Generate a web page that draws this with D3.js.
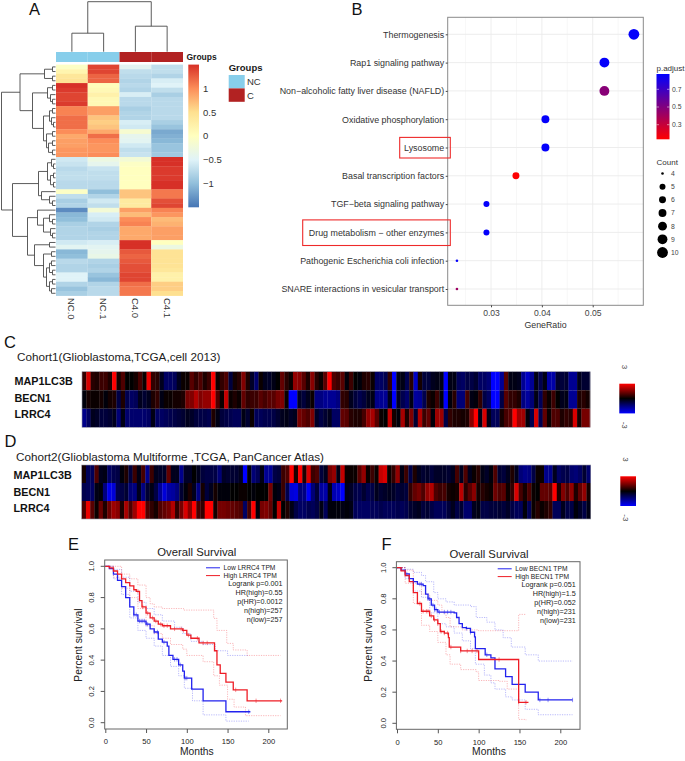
<!DOCTYPE html>
<html>
<head>
<meta charset="utf-8">
<script src="https://cdn.jsdelivr.net/npm/d3@7"></script>
<style>
  body { margin: 0; background: #fff; }
  text { font-family: "Liberation Sans", Arial, sans-serif; }
</style>
</head>
<body>
<div id="chart"></div>
<script>
// ---------- data ----------
// Panel A
const heatCols = ["NC.0", "NC.1", "C4.0", "C4.1"];
const heatNC0 = [-.05,.15,.35,.4,1.35,1.3,1.25,1.25,1.3,.95,.95,1.05,1.05,1.05,.9,.75,.8,.8,.85,.85,-.6,-.65,-.75,-.7,-.7,-.75,-.75,-.05,-.7,-.85,-.8,-1.35,-1.05,-1,-.85,-.8,-.8,-.8,-.6,-.45,-1.05,-1,-.75,-.8,-.8,-.5,-.5,-.8,-.95,-.85];
const heatNC1 = [1.25,1.25,1.1,1.1,.05,.1,.2,.1,.1,.8,.8,.6,.55,.6,.75,1.05,.9,.85,.85,.9,-.3,-.4,-.65,-.7,-.7,-.75,-.75,-1,-.8,-.6,-.7,-.2,-.55,-.6,-.8,-.85,-.8,-.8,-.55,-.45,-.4,-.35,-.8,-.85,-.8,-.95,-1.05,-.8,-.75,-.75];
const heatC40 = [-.45,-.7,-.75,-.8,-.75,-.8,-.55,-.75,-.75,-.85,-.8,-.8,-.55,-.6,-.15,-.4,-.45,-.6,-.7,-.65,-.2,-.05,0,0,0,0,0,.6,.6,.3,.3,.8,.65,.9,.95,.75,.75,.75,1.35,1.35,1.15,1.1,1.15,1.2,1.2,1.25,1.25,1.05,1,1];
const heatC41 = [-.7,-.7,-.8,-.55,-.5,-.7,-.85,-.75,-.75,-.75,-.75,-.75,-.85,-.95,-1.15,-1.1,-1.05,-.95,-.95,-.9,1.35,1.35,1.3,1.3,1.3,1.35,1.35,1,1,1.2,1.25,.95,.85,.65,.7,.8,.8,.8,0,-.3,.4,.4,.4,.4,.35,.2,.2,.55,.55,.45];
const heatLegendTicks = [1, 0.5, 0, -0.5, -1];
const groupNames = ["NC", "C"];
// dendrograms: [height, left, right], 0 is a leaf
const rowTree = [54,
  [35.5,
    [11,[3,0,0],[3,0,0]],
    [23,
      [8,[3,0,0],[5,0,[3,0,0]]],
      [12,[6,[3,0,0],[4,0,[2,0,0]]],[9,[3,0,0],[7,[3,0,0],[3,0,0]]]]]],
  [43,
    [17,[8,[4,0,[2,0,0]],[5,[2,0,0],[2,0,0]]],[14,0,[6,0,[3,0,0]]]],
    [28,
      [18,0,[12,[6,0,[3,0,0]],[5,0,[3,0,0]]]],
      [21,[6,0,0],[12,[4,0,0],[9,[6,[4,0,0],[3,0,0]],[6,[3,0,0],[4,0,0]]]]]]]];
const colTree = [50, [18.5,0,0], [25.5,0,0]];

// Panel B
const pathways = ["Thermogenesis","Rap1 signaling pathway","Non\u2212alcoholic fatty liver disease (NAFLD)","Oxidative phosphorylation","Lysosome","Basal transcription factors","TGF\u2212beta signaling pathway","Drug metabolism \u2212 other enzymes","Pathogenic Escherichia coli infection","SNARE interactions in vesicular transport"];
const geneRatio = [0.0581,0.0523,0.0523,0.0407,0.0407,0.0349,0.0291,0.0291,0.0233,0.0233];
const pAdjust = [0.86,0.86,0.48,0.86,0.86,0.14,0.86,0.86,0.86,0.42];
const geneCount = [10,9,9,7,7,6,5,5,4,4];
const ratioTicks = [0.03,0.04,0.05];
const padjTicks = [0.7,0.5,0.3];
const countLegend = [4,5,6,7,8,9,10];
const boxedPathways = ["Lysosome","Drug metabolism \u2212 other enzymes"];

// Panels C and D
const geneNames = ["MAP1LC3B","BECN1","LRRC4"];
const cohort1Map = [.5,2.2,.4,.3,.6,.6,.3,3,.2,.8,0,0,.2,.7,.1,2.4,.5,.4,-.3,-1,-1,-.9,-.3,.1,.1,.9,.5,.8,.3,.6,2.8,.1,.5,.8,-.6,.2,.4,1.3,.3,-.4,-1.1,.1,-.3,-.4,-.2,0,1,.4,.1,1.5,1.4,.9,.3,1.4,.4,.1,.9,3,.8,.6,.9,-.1,.6,0,-.1,.3,.4,.1,-1,-1,-.8,.5,-3,-.2,-.2,-.8,.4,-2,.2,-.6,-.6,-.3,-.2,-.2,-3,-.2,-.2,-.9,-1,-.7,-.7,-.5,-1,-1,-1.2,-3,-3,-1.5,.9,-.2,-.2,-.3,-1.5,-2,-1.5,-.2,-.8,-.2,-1.7,-1.7,-.5,-.6,-.5,-1.5,-1.5,-.3,-.5,-.5];
const cohort1Becn = [-.1,.2,.1,.1,.2,-.1,.2,.3,-.7,.3,-.8,-1,-.9,-.3,-.5,-.3,.3,.5,-.2,.1,.1,.2,.2,.3,1.2,1.3,1.8,1.3,1.5,1.5,2.8,.8,.1,2,.1,.3,.1,1,.5,.6,.6,.9,.7,.9,.9,1.2,1.3,.1,-2.7,-2.7,-.4,-.6,-.3,.1,-1.3,-1.3,-1.5,-1.5,-1.5,-1.3,.5,.4,-.3,-.6,-.8,-.6,-.3,-.2,-1.4,-1.5,-1.5,-.3,-3,-.4,-.8,-1.1,-.2,-1.6,-1.5,-.8,.3,.1,.6,-.1,-3,-.1,.4,-1.2,-1.2,.7,-.2,-.1,.5,-.7,-1,-3,-3,-.7,.9,.5,.5,.3,-1.3,-1.6,-1.2,-.2,-.9,.5,.1,.6,0,-.3,-.2,-1.5,-1.5,.3,.4,.2];
const cohort1Lrrc = [-1.4,-1,-.3,-.4,-.6,-.6,-.5,-.3,-1.2,-.2,-1.1,-1.1,-1.1,-1.1,-1.1,-1,-.2,-1,-1,-.9,-.8,-.7,-.6,-.5,-.3,-.4,-.6,-.7,-.7,-.8,.3,-.2,-.6,-.7,-.8,-.9,-.9,-.2,-.5,.1,-.9,-.9,-.8,-.8,-.7,-.5,-.3,-.2,-.4,-.3,1.2,1,.8,1.3,-.4,-.7,-.5,-.3,-1,-1,1,.9,.4,.3,.3,.7,1.5,1.7,.9,.1,0,2,.2,-.1,1.7,.3,1.3,-.5,1.8,.6,1,-.1,1.6,1.6,-.7,.5,.3,.3,.2,.3,1.4,3,-.2,2.2,-.2,-.9,-.9,.2,.7,.9,3,1.6,1.6,-.1,-.8,2.2,-.8,1,.1,.8,.8,.3,.5,.4,2.2,.2,1.2,1.2];
const cohort2Map = [.2,-.9,-.9,.8,-.3,-.2,-1,-.8,-.7,-.1,.3,-.6,.6,-.2,.7,-1.4,.6,-.3,-.4,-.4,1,-.3,-.3,-1.4,-.4,-.4,0,-.3,-.6,-.7,-.7,-.7,-1.2,-.4,-.5,-.5,-.5,-.3,-2.6,-.1,-1.2,-.9,-.2,-1.5,-1.5,-.7,-.6,.6,.8,3,.3,3,.3,2.2,.6,.8,-.6,-.3,1.2,1.5,-.2,2,.1,.1,.1,.9,1.5,.1,.6,.1,2,2.2,.1,.5,1.5,-.2,.6,-.7,.3,-.3,-.5,-.4,-.6,-.4,-.4,-.4,-.5,-.3,.7,-.3,.8,-.3,.1,.4,-.2,-.4,-.1,.8,-.5,-.6,-.3,.3,-.3,-1.2,-1.4,-1.3,-.7,.1,.1,-1.4,-1.4,-.3,-1,-.8,-.7,-1.1,-1.2,-1,-.5,-1.1];
const cohort2Becn = [-.8,-.9,-1,-.2,-.1,-1.3,-2.4,-2.2,-.8,-.7,-.5,-1.2,-1.3,-.3,-1.3,-.5,-.2,-.7,-1.5,-2.2,-1.7,-1.6,-1.3,-.5,-.1,.3,-.3,-1.3,.2,-.6,-.3,.2,-.1,-.1,-.1,0,0,.1,.1,0,-.1,0,0,0,1.2,-.1,-.2,.6,-.8,-2.2,-2.3,-1.2,-1.3,-2.5,-1.2,-.6,-1.6,-1.7,-.2,-1.8,-2,-3,-.3,-.4,-.7,-.8,-.5,-.8,-.7,-.3,-.5,-.4,-.3,-.4,-.6,-.5,-.6,.5,1,1.2,.8,1.5,1.8,.8,.6,.7,.2,.1,.2,1.9,.4,.9,1.4,.2,.4,.2,.1,1.1,.8,.9,.1,.5,2.2,.7,.2,.8,.1,0,1,1,.9,3,.3,1.3,.8,1.5,.3,1,1.5,.2];
const cohort2Lrrc = [.8,2.4,.9,.1,1.1,.3,1.1,1.6,1.4,.3,1.7,.8,1.6,3,3,.8,.5,.2,.8,1,1.2,1.8,.5,1.2,2.2,1.4,3,.7,.5,3,3,.2,1.2,1.2,1.1,1,.9,.8,-1,.7,3,-.1,1.2,1.3,1,0,2,0,.3,-.2,-.7,-1,-1,-.8,-.9,-.7,-.2,-.9,-.1,-.1,-.1,-.2,-.1,-.2,-.9,-1,-1,-1,-.9,-.9,-.8,-.9,-.9,-.9,-.8,-.9,-.8,-.5,-.4,-.3,-.6,-.5,-.7,-.9,-.9,-.9,-.6,-.3,-.7,-.5,-1.1,-1.1,-.3,-.2,-.7,-.7,-.6,-.6,-.5,-.6,-.4,-.7,-.9,-.9,-.1,-.9,.1,.4,.1,.3,.5,-.9,-.9,-.3,-.7,-.7,-.1,-.4,-.7,-.2];

// Panel E survival
const eLowT  = [0,5,10,15,20,25,30,35,40,50,55,60,65,70,76,78,83,90,95,97,106,120,148,178];
const eLowS  = [1,.985,.95,.91,.87,.8,.74,.69,.65,.63,.6,.58,.535,.515,.49,.43,.405,.37,.33,.285,.215,.14,.07,.07];
const eLowUpT = [0,10,20,30,40,50,60,70,85,95,105,120,135,150,175];
const eLowUpS = [1,.98,.93,.84,.77,.73,.69,.65,.61,.57,.52,.5,.46,.43,.425];
const eLowDnT = [0,10,20,30,40,50,60,70,80,90,97,107,120,148,176];
const eLowDnS = [1,.92,.82,.67,.59,.54,.49,.43,.36,.3,.22,.14,.05,.01,.01];
const eHighT = [0,5,10,15,20,25,30,35,38,42,45,50,55,60,65,70,80,95,100,105,115,134,137,141,148,157,174,217];
const eHighS = [1,.99,.97,.95,.92,.895,.875,.85,.84,.78,.74,.7,.67,.65,.63,.62,.6,.59,.56,.54,.51,.46,.37,.315,.26,.21,.14,.14];
const eHighUpT = [0,10,20,30,40,50,55,60,70,96,133,137,149,157,174,215];
const eHighUpS = [1,1,.95,.92,.88,.8,.76,.74,.73,.72,.667,.59,.507,.465,.43,.43];
const eHighDnT = [0,10,20,30,40,50,60,70,80,95,100,120,133,140,150,158,172,215];
const eHighDnS = [1,.93,.86,.8,.73,.62,.57,.54,.5,.47,.43,.39,.3,.24,.15,.1,.045,.045];
const eLowCensor = [35,38,42,44,46,48,50,52,60,64,72,85,88,92,98,100,176];
const eHighCensor = [40,46,52,58,62,68,72,76,85,93,96,102,113,120,125,160,185,215];

// Panel F survival
const fLowT = [0,5,10,15,20,25,32,35,38,42,46,50,70,73,76,80,85,90,95,96,105,108,115,120,133,141,157,173,215];
const fLowS = [1,.985,.96,.93,.91,.895,.885,.83,.8,.76,.73,.715,.71,.68,.64,.615,.61,.585,.555,.48,.48,.44,.42,.35,.3,.25,.2,.15,.15];
const fLowUpT = [0,10,20,30,35,45,50,60,70,90,97,110,120,130,140,157,173,215];
const fLowUpS = [1,.99,.97,.95,.91,.84,.8,.78,.76,.75,.68,.65,.6,.55,.49,.44,.4,.4];
const fLowDnT = [0,10,20,30,40,50,60,70,80,90,96,107,115,120,133,141,157,173,215];
const fLowDnS = [1,.93,.85,.81,.71,.64,.62,.58,.53,.48,.38,.31,.26,.22,.17,.15,.09,.055,.055];
const fHighT = [0,5,10,15,20,25,30,40,45,50,53,58,63,64,78,100,149,161];
const fHighS = [1,.98,.95,.91,.84,.77,.72,.69,.665,.64,.59,.58,.55,.49,.465,.41,.135,.135];
const fHighUpT = [0,10,20,30,40,50,55,60,65,80,100,149,158];
const fHighUpS = [1,.985,.9,.83,.79,.76,.71,.68,.62,.6,.595,.7,.7];
const fHighDnT = [0,10,20,30,40,50,60,65,78,97,100,125,135,149,158];
const fHighDnS = [1,.9,.77,.63,.59,.52,.44,.38,.345,.33,.275,.27,.22,.025,.02];
const fLowCensor = [12,20,28,30,38,40,44,46,48,52,58,62,66,85,90,110,175,185,215];
const fHighCensor = [28,32,36,38,42,46,50,54,58,62,66,78,86,92,98,125,149,158];

const monthTicks = [0,50,100,150,200];
const survTicks = [0,0.2,0.4,0.6,0.8,1];
const survBlue = "#2222ee", survRed = "#ee1c25";

// ---------- canvas ----------
const svg = d3.select("#chart").append("svg")
    .attr("width", 685)
    .attr("height", 761)
    .style("display", "block");

function label(x, y, s, size, opts = {}) {
    return svg.append("text")
        .attr("x", x).attr("y", y)
        .attr("font-size", size)
        .attr("fill", opts.fill || "#1a1a1a")
        .attr("font-weight", opts.weight || "normal")
        .attr("text-anchor", opts.anchor || "start")
        .attr("transform", opts.rotate ? `rotate(${opts.rotate},${x},${y})` : null)
        .text(s);
}

[["A",29,15],["B",351.5,15],["C",4,347.5],["D",4.5,447],["E",68,550],["F",381.5,550]]
    .forEach(d => label(d[1], d[2], d[0], 16.5, { fill: "#111" }));

// ---------- Panel A ----------
const heatRows = d3.range(heatNC0.length);
const heatValues = [heatNC0, heatNC1, heatC40, heatC41];
const xHeat = d3.scaleBand().domain(heatCols).range([56, 183]);
const yHeat = d3.scaleBand().domain(heatRows).range([64.6, 295.6]);
const heatColor = d3.scaleLinear()
    .domain([-1.5,-1,-.5,0,.45,.9,1.35])
    .range(["#4575B4","#91BFDB","#E0F3F8","#FFFFBF","#FEE090","#FC8D59","#D73027"]);

heatCols.forEach((c, j) => {
    svg.append("g").selectAll("rect").data(heatRows).join("rect")
        .attr("x", xHeat(c))
        .attr("y", i => yHeat(i))
        .attr("width", xHeat.bandwidth())
        .attr("height", yHeat.bandwidth() + 0.3)
        .attr("fill", i => heatColor(heatValues[j][i]));
    label(xHeat(c) + xHeat.bandwidth() / 2 - 3.5, 298, c, 9.5, { rotate: 90, fill: "#333" });
});

// group annotation bar
const groupColor = d3.scaleOrdinal().domain(groupNames).range(["#87CEEB", "#B22222"]);
svg.selectAll(".anno").data(heatCols).join("rect")
    .attr("class", "anno")
    .attr("x", c => xHeat(c))
    .attr("y", 52)
    .attr("width", xHeat.bandwidth())
    .attr("height", 10)
    .attr("fill", (c, i) => groupColor(i < 2 ? "NC" : "C"));
label(186.5, 60, "Groups", 8.5, { weight: "bold" });

// dendrograms
let leaf = 0;
function layoutTree(node, leafPos, hScale, path, vertical) {
    if (node === 0) return { p: leafPos(leaf++), h: hScale(0) };
    const a = layoutTree(node[1], leafPos, hScale, path, vertical);
    const b = layoutTree(node[2], leafPos, hScale, path, vertical);
    const h = hScale(node[0]);
    if (vertical) path.push(`M${a.p},${a.h}V${h}H${b.p}V${b.h}`);
    else path.push(`M${a.h},${a.p}H${h}V${b.p}H${b.h}`);
    return { p: (a.p + b.p) / 2, h };
}
const rowPaths = [];
layoutTree(rowTree, i => yHeat(i) + yHeat.bandwidth() / 2, d3.scaleLinear([0, 55], [55.5, 0.5]), rowPaths, false);
leaf = 0;
const colPaths = [];
layoutTree(colTree, i => xHeat(heatCols[i]) + xHeat.bandwidth() / 2, d3.scaleLinear([0, 50], [51.7, 1.7]), colPaths, true);
svg.append("path").attr("d", rowPaths.concat(colPaths).join(""))
    .attr("fill", "none").attr("stroke", "#4a4a4a").attr("stroke-width", 0.9);

// colour bar
const heatDefs = svg.append("defs");
const heatGrad = heatDefs.append("linearGradient").attr("id", "heatGrad")
    .attr("x1", 0).attr("x2", 0).attr("y1", 1).attr("y2", 0);
heatColor.domain().forEach((v, i) => heatGrad.append("stop")
    .attr("offset", i / 6).attr("stop-color", heatColor(v)));
const yHeatLegend = d3.scaleLinear().domain([-1.5, 1.5]).range([207.3, 64.6]);
svg.append("rect").attr("x", 188.3).attr("y", 64.6).attr("width", 10.7).attr("height", 142.7)
    .attr("fill", "url(#heatGrad)");
heatLegendTicks.forEach(t => label(203, yHeatLegend(t) + 3.4, d3.format("")(t).replace("-", "\u2212"), 9.5, { fill: "#333" }));

// group legend
label(228.7, 71, "Groups", 9.5, { weight: "bold" });
groupNames.forEach((g, i) => {
    svg.append("rect").attr("x", 228.7).attr("y", 75 + i * 13.4).attr("width", 16).attr("height", 13.4)
        .attr("fill", groupColor(g));
    label(247, 85.2 + i * 13.6, g, 9.5, { fill: "#333" });
});

// ---------- Panel B ----------
const xDot = d3.scaleLinear().domain([0.02148, 0.05995]).range([447.7, 643.3]);
const yDot = d3.scalePoint().domain(pathways).range([34.3, 289]);
const padjColor = d3.scaleLinear().domain([0.135, 0.873]).range(["#ff0000", "#0000ff"]);
const rDot = d3.scaleLinear().domain([4, 5, 10]).range([1.3, 3, 5.4]);
const dotTop = 17.3, dotBottom = 305.3;

const gridMinor = [0.025, 0.035, 0.045, 0.055];
svg.append("g").selectAll("line").data(gridMinor).join("line")
    .attr("x1", xDot).attr("x2", xDot).attr("y1", dotTop).attr("y2", dotBottom)
    .attr("stroke", "#f1f1f1").attr("stroke-width", 0.6);
svg.append("g").selectAll("line").data(ratioTicks).join("line")
    .attr("x1", xDot).attr("x2", xDot).attr("y1", dotTop).attr("y2", dotBottom)
    .attr("stroke", "#ebebeb").attr("stroke-width", 0.9);
svg.append("g").selectAll("line").data(pathways).join("line")
    .attr("x1", 447.7).attr("x2", 643.3).attr("y1", yDot).attr("y2", yDot)
    .attr("stroke", "#ebebeb").attr("stroke-width", 0.9);

svg.append("g").selectAll("circle").data(pathways).join("circle")
    .attr("cx", (p, i) => xDot(geneRatio[i]))
    .attr("cy", p => yDot(p))
    .attr("r", (p, i) => rDot(geneCount[i]))
    .attr("fill", (p, i) => padjColor(pAdjust[i]));

svg.append("rect").attr("x", 447.7).attr("y", dotTop).attr("width", 195.6).attr("height", dotBottom - dotTop)
    .attr("fill", "none").attr("stroke", "#8a8a8a").attr("stroke-width", 1);

svg.append("g")
    .attr("transform", "translate(447.7,0)")
    .call(d3.axisLeft(yDot).tickSize(2).tickPadding(1.5))
    .call(g => g.select(".domain").remove())
    .call(g => g.selectAll("line").attr("stroke", "#444"))
    .call(g => g.selectAll("text").attr("font-size", 8.9).attr("fill", "#333").style("font-family", "Liberation Sans"));
svg.append("g")
    .attr("transform", `translate(0,${dotBottom})`)
    .call(d3.axisBottom(xDot).tickValues(ratioTicks).tickFormat(d3.format(".2f")).tickSize(2).tickPadding(3))
    .call(g => g.select(".domain").remove())
    .call(g => g.selectAll("line").attr("stroke", "#444"))
    .call(g => g.selectAll("text").attr("font-size", 8.6).attr("fill", "#444").style("font-family", "Liberation Sans"));
label(545.5, 328, "GeneRatio", 8.8, { anchor: "middle", fill: "#333" });

boxedPathways.forEach((p, i) => {
    const half = i === 0 ? 10.3 : 12.8;
    const left = i === 0 ? 399.7 : 302.7;
    svg.append("rect").attr("x", left).attr("y", yDot(p) - half + (i ? 0.3 : 0.2))
        .attr("width", 450.3 - left).attr("height", half * 2)
        .attr("fill", "none").attr("stroke", "#ee2a2a").attr("stroke-width", 1.1);
});

// p.adjust legend
label(656.5, 71, "p.adjust", 8, { fill: "#333" });
const padjGrad = heatDefs.append("linearGradient").attr("id", "padjGrad")
    .attr("x1", 0).attr("x2", 0).attr("y1", 1).attr("y2", 0);
padjGrad.append("stop").attr("offset", 0).attr("stop-color", "#ff0000");
padjGrad.append("stop").attr("offset", 1).attr("stop-color", "#0000ff");
svg.append("rect").attr("x", 656.5).attr("y", 74).attr("width", 13).attr("height", 65.3).attr("fill", "url(#padjGrad)");
const yPadj = d3.scaleLinear().domain([0.135, 0.873]).range([139.3, 74]);
padjTicks.forEach(t => {
    svg.append("line").attr("x1", 656.5).attr("x2", 659).attr("y1", yPadj(t)).attr("y2", yPadj(t)).attr("stroke", "#fff").attr("stroke-width", 0.5);
    svg.append("line").attr("x1", 667).attr("x2", 669.5).attr("y1", yPadj(t)).attr("y2", yPadj(t)).attr("stroke", "#fff").attr("stroke-width", 0.5);
    label(672, yPadj(t) + 2.4, d3.format(".1f")(t), 6.8, { fill: "#444" });
});

// count legend
label(656.5, 164.5, "Count", 8, { fill: "#333" });
const yCount = d3.scalePoint().domain(countLegend).range([173.5, 252.5]);
svg.append("g").selectAll("circle").data(countLegend).join("circle")
    .attr("cx", 662.5).attr("cy", c => yCount(c)).attr("r", c => rDot(c)).attr("fill", "#000");
countLegend.forEach(c => label(671, yCount(c) + 2.4, c, 6.8, { fill: "#444" }));

// ---------- Panels C and D ----------
const expColor = d3.scaleLinear().domain([-2.6, 0, 2.6]).range(["#0000ff", "#000000", "#ff0000"]).clamp(true);

function drawExpression(series, title, titleX, titleY, x0, x1, y0, y1, labelX, labelYs, barX, barY) {
    label(titleX, titleY, title, 11.7, { fill: "#222" });
    const yGene = d3.scaleBand().domain(geneNames).range([y0, y1]);
    geneNames.forEach((g, k) => {
        const xCol = d3.scaleBand().domain(d3.range(series[k].length)).range([x0, x1]);
        svg.append("g").selectAll("rect").data(series[k]).join("rect")
            .attr("x", (v, i) => xCol(i))
            .attr("y", yGene(g))
            .attr("width", xCol.bandwidth() + 0.3)
            .attr("height", yGene.bandwidth())
            .attr("fill", v => expColor(v));
        label(labelX, labelYs[k], g, 10.8, { weight: "bold", fill: "#111" });
    });
    svg.append("rect").attr("x", x0).attr("y", y0).attr("width", x1 - x0).attr("height", y1 - y0)
        .attr("fill", "none").attr("stroke", "#9a9aa8").attr("stroke-width", 0.6);
    // colour key
    svg.append("rect").attr("x", barX).attr("y", barY).attr("width", 15.7).attr("height", 29.7)
        .attr("fill", "url(#expGrad)");
    label(barX + 2.7, barY - 19, "3", 8, { rotate: 90, fill: "#444" });
    label(barX + 2.7, barY + 38, "-3", 8, { rotate: 90, fill: "#444" });
}
const expGrad = heatDefs.append("linearGradient").attr("id", "expGrad")
    .attr("x1", 0).attr("x2", 0).attr("y1", 0).attr("y2", 1);
[["0%", "#ff0000"], ["50%", "#000000"], ["100%", "#0000ff"]].forEach(s =>
    expGrad.append("stop").attr("offset", s[0]).attr("stop-color", s[1]));

drawExpression([cohort1Map, cohort1Becn, cohort1Lrrc], "Cohort1(Glioblastoma,TCGA,cell 2013)",
    17, 360.7, 82, 590, 371.7, 427.3, 14.5, [385, 401.7, 418.3], 619.3, 383.7);
drawExpression([cohort2Map, cohort2Becn, cohort2Lrrc], "Cohort2(Glioblastoma Multiforme ,TCGA, PanCancer Atlas)",
    16, 460.7, 81.7, 590.7, 465, 519, 13.5, [479, 495.7, 512], 620.3, 476.3);

// ---------- Panels E and F ----------
function drawSurvival(cfg) {
    const x = d3.scaleLinear().domain([0, 200]).range(cfg.xRange);
    const y = d3.scaleLinear().domain([0, 1]).range(cfg.yRange);
    const step = d3.line().curve(d3.curveStepAfter);
    const toPts = (t, s) => t.map((m, i) => [x(m), y(s[i])]);

    const drawLine = (t, s, color, dotted) => svg.append("path")
        .attr("d", step(toPts(t, s)))
        .attr("fill", "none")
        .attr("stroke", color)
        .attr("stroke-width", dotted ? 0.7 : 1.3)
        .attr("stroke-opacity", dotted ? 0.45 : 1)
        .attr("stroke-dasharray", dotted ? "1.2,1.2" : null);

    cfg.low.ci.forEach(c => drawLine(c[0], c[1], survBlue, true));
    cfg.high.ci.forEach(c => drawLine(c[0], c[1], survRed, true));
    drawLine(cfg.low.t, cfg.low.s, survBlue, false);
    drawLine(cfg.high.t, cfg.high.s, survRed, false);

    [[cfg.low, survBlue], [cfg.high, survRed]].forEach(([c, color]) => {
        svg.append("g").selectAll("line").data(c.censor).join("line")
            .attr("x1", m => x(m)).attr("x2", m => x(m))
            .attr("y1", m => y(c.s[Math.max(0, d3.bisectRight(c.t, m) - 1)]) - 2.2)
            .attr("y2", m => y(c.s[Math.max(0, d3.bisectRight(c.t, m) - 1)]) + 2.2)
            .attr("stroke", color).attr("stroke-width", 0.6).attr("stroke-opacity", 0.8);
    });

    svg.append("rect")
        .attr("x", cfg.xRange[0] - 0.6).attr("y", cfg.top)
        .attr("width", cfg.right - cfg.xRange[0] + 0.6).attr("height", cfg.bottom - cfg.top)
        .attr("fill", "none").attr("stroke", "#666").attr("stroke-width", 1);

    svg.append("g").attr("transform", `translate(0,${cfg.bottom})`)
        .call(d3.axisBottom(x).tickValues(monthTicks).tickSize(4).tickPadding(6))
        .call(g => g.select(".domain").remove())
        .call(g => g.selectAll("line").attr("stroke", "#555"))
        .call(g => g.selectAll("text").attr("font-size", 7.6).attr("fill", "#222").style("font-family", "Liberation Sans"));
    const yAxis = svg.append("g").attr("transform", `translate(${cfg.xRange[0] - 0.6},0)`)
        .call(d3.axisLeft(y).tickValues(survTicks).tickFormat(d3.format(".1f")).tickSize(4).tickPadding(0))
        .call(g => g.select(".domain").remove())
        .call(g => g.selectAll("line").attr("stroke", "#555"));
    yAxis.selectAll("text")
        .attr("font-size", 7.6).attr("fill", "#222").style("font-family", "Liberation Sans")
        .attr("text-anchor", "middle").attr("dy", 0).attr("x", -10.5)
        .attr("transform", function (d) { return `rotate(-90,-10.5,${y(d)})`; })
        .attr("y", d => y(d));
    yAxis.selectAll(".tick").attr("transform", null);
    yAxis.selectAll(".tick line").attr("y1", d => y(d)).attr("y2", d => y(d));

    const mid = (cfg.xRange[0] + cfg.right) / 2 + 0.5;
    label(mid, cfg.titleY, "Overall Survival", 11.3, { anchor: "middle", fill: "#222" });
    label(mid, 755, "Months", 10.3, { anchor: "middle", fill: "#222" });
    label(cfg.yLabelX, 645, "Percent survival", 10.3, { anchor: "middle", rotate: -90, fill: "#222" });

    // legend
    cfg.legend.names.forEach((n, i) => {
        const ly = cfg.legend.y + i * 7.8;
        svg.append("line").attr("x1", cfg.legend.x).attr("x2", cfg.legend.x + 14)
            .attr("y1", ly).attr("y2", ly)
            .attr("stroke", i ? survRed : survBlue).attr("stroke-width", 1);
        label(cfg.legend.x + 17.5, ly + 2.4, n, 6.7, { fill: "#222" });
    });
    cfg.legend.stats.forEach((s, i) => label(cfg.legend.right, cfg.legend.y + 18.6 + i * 8.8, s, 7.2, { anchor: "end", fill: "#222" }));
}

drawSurvival({
    xRange: [105.3, 268.3], yRange: [722.7, 566.3], right: 287.3, top: 560, bottom: 729,
    titleY: 556, yLabelX: 81.5,
    low: { t: eLowT, s: eLowS, ci: [[eLowUpT, eLowUpS], [eLowDnT, eLowDnS]], censor: eLowCensor },
    high: { t: eHighT, s: eHighS, ci: [[eHighUpT, eHighUpS], [eHighDnT, eHighDnS]], censor: eHighCensor },
    legend: { x: 206, y: 567.8, right: 282.5, names: ["Low LRRC4 TPM", "High LRRC4 TPM"],
        stats: ["Logrank p=0.001", "HR(high)=0.55", "p(HR)=0.0012", "n(high)=257", "n(low)=257"] }
});
drawSurvival({
    xRange: [397, 560.3], yRange: [723.3, 567.7], right: 580, top: 561.7, bottom: 729.3,
    titleY: 558, yLabelX: 372,
    low: { t: fLowT, s: fLowS, ci: [[fLowUpT, fLowUpS], [fLowDnT, fLowDnS]], censor: fLowCensor },
    high: { t: fHighT, s: fHighS, ci: [[fHighUpT, fHighUpS], [fHighDnT, fHighDnS]], censor: fHighCensor },
    legend: { x: 497.7, y: 568.8, right: 575.7, names: ["Low BECN1 TPM", "High BECN1 TPM"],
        stats: ["Logrank p=0.051", "HR(high)=1.5", "p(HR)=0.052", "n(high)=231", "n(low)=231"] }
});
</script>
</body>
</html>
